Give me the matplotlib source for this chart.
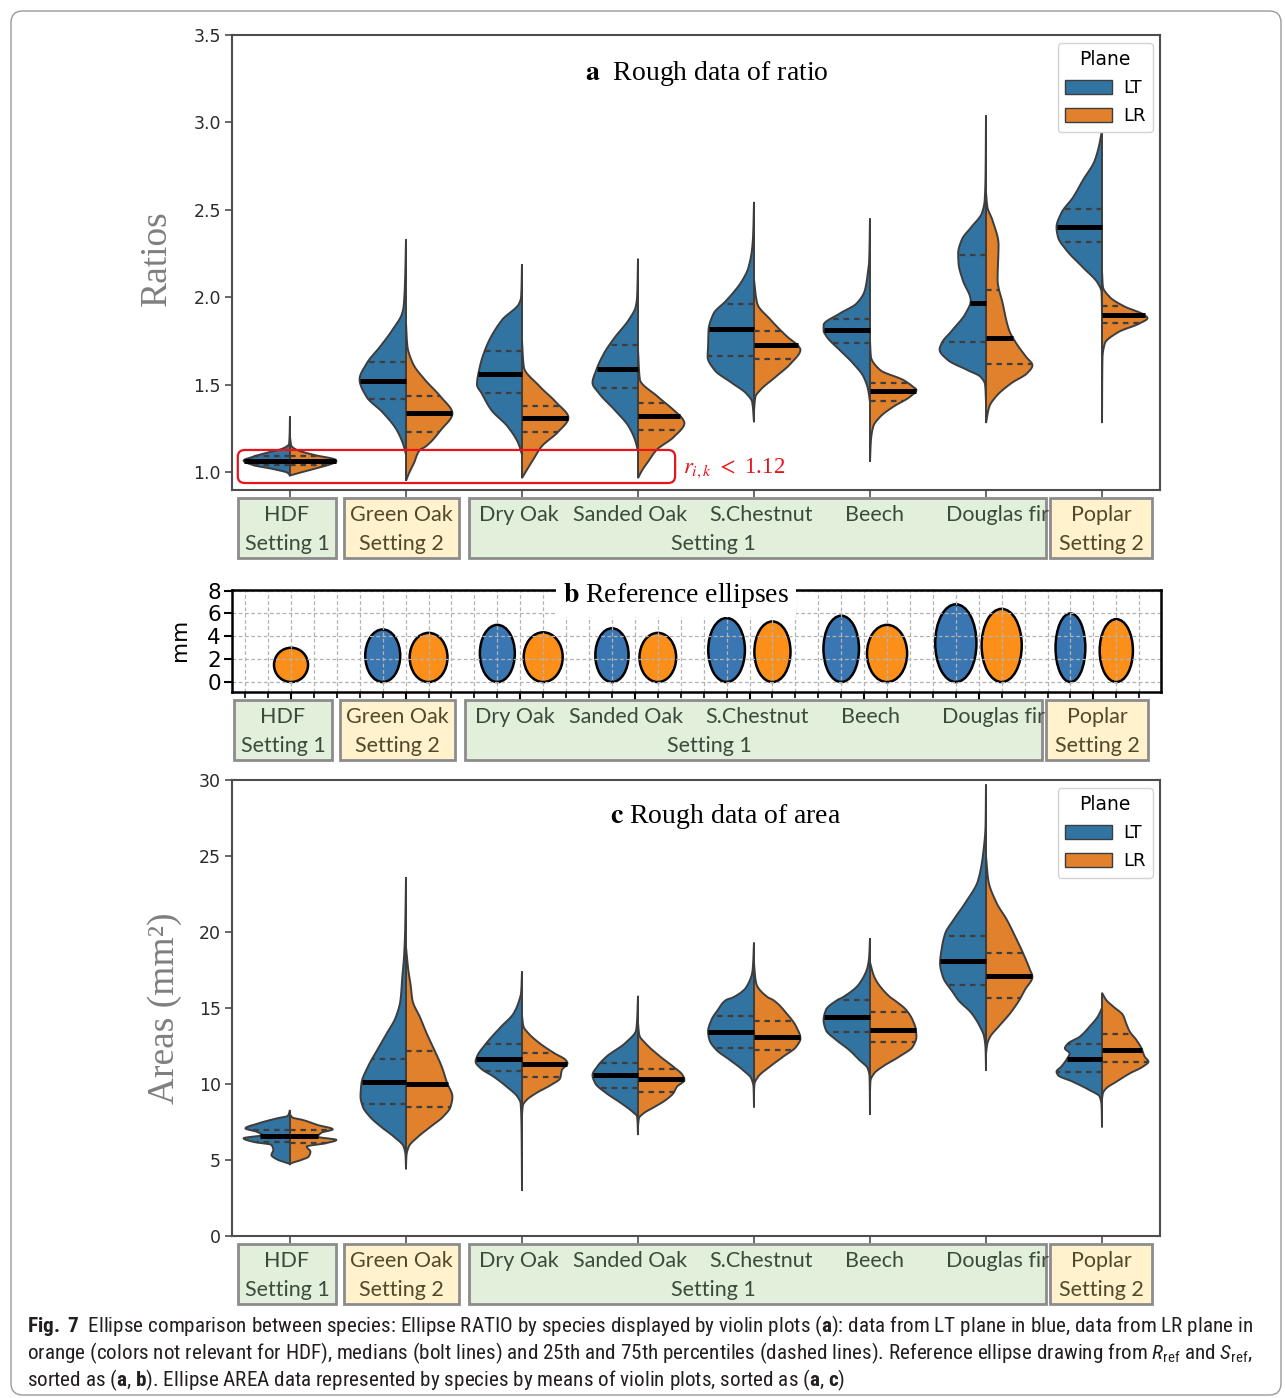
import numpy as np
import matplotlib
matplotlib.use("Agg")
import matplotlib.pyplot as plt
from matplotlib import font_manager
from matplotlib.patches import Rectangle, Ellipse, FancyBboxPatch, Patch

# ── data ────────────────────────────────────────────────────────────────────
SPECIES = ["HDF", "Green Oak", "Dry Oak", "Sanded Oak", "S.Chestnut", "Beech", "Douglas fir", "Poplar"]
PLANES = ["LT", "LR"]

# violin outlines: (value, relative half-width) from top tip to bottom tip
RATIO_LT_SHAPE = [
    [(1.32, 0), (1.16, 0.02), (1.145, 0.08), (1.13, 0.2), (1.116, 0.41), (1.087, 0.8), (1.065, 1.0),
     (1.04, 0.8), (1.015, 0.33), (0.995, 0.05), (0.98, 0)],
    [(2.33, 0), (2.1, 0.02), (1.95, 0.05), (1.91, 0.08), (1.81, 0.3), (1.72, 0.55), (1.62, 0.85),
     (1.53, 1.0), (1.43, 0.85), (1.34, 0.5), (1.24, 0.2), (1.15, 0.05), (1.10, 0)],
    [(2.19, 0), (2.0, 0.02), (1.965, 0.06), (1.87, 0.43), (1.716, 0.77), (1.60, 0.91), (1.50, 0.97),
     (1.45, 0.87), (1.354, 0.66), (1.26, 0.31), (1.164, 0.08), (1.10, 0)],
    [(2.22, 0), (2.0, 0.02), (1.945, 0.05), (1.87, 0.2), (1.77, 0.5), (1.68, 0.73), (1.583, 0.9),
     (1.51, 0.98), (1.45, 0.84), (1.354, 0.5), (1.26, 0.2), (1.18, 0.06), (1.12, 0)],
    [(2.545, 0), (2.35, 0.02), (2.28, 0.04), (2.17, 0.12), (2.097, 0.25), (1.98, 0.6), (1.907, 0.87),
     (1.81, 0.98), (1.716, 0.99), (1.66, 1.0), (1.583, 0.85), (1.51, 0.48), (1.45, 0.17), (1.40, 0.04),
     (1.285, 0)],
    [(2.45, 0), (2.2, 0.02), (2.154, 0.04), (2.04, 0.11), (1.964, 0.29), (1.907, 0.65), (1.84, 1.0),
     (1.81, 1.0), (1.773, 0.93), (1.697, 0.65), (1.62, 0.36), (1.545, 0.14), (1.47, 0.04), (1.40, 0)],
    [(3.04, 0), (2.7, 0.01), (2.55, 0.03), (2.48, 0.09), (2.40, 0.32), (2.33, 0.52), (2.25, 0.6),
     (2.19, 0.59), (2.097, 0.5), (1.98, 0.33), (1.907, 0.44), (1.81, 0.73), (1.735, 0.96), (1.70, 1.0),
     (1.64, 0.82), (1.583, 0.4), (1.545, 0.12), (1.50, 0.02), (1.40, 0)],
    [(3.12, 0), (2.95, 0.01), (2.897, 0.04), (2.78, 0.16), (2.67, 0.41), (2.573, 0.62), (2.48, 0.88),
     (2.40, 0.98), (2.345, 0.95), (2.27, 0.77), (2.17, 0.41), (2.08, 0.09), (2.03, 0.01), (1.9, 0)],
]
RATIO_LR_SHAPE = [
    [(1.20, 0), (1.15, 0.03), (1.13, 0.12), (1.097, 0.53), (1.07, 0.98), (1.06, 1.0), (1.05, 0.93),
     (1.02, 0.55), (0.995, 0.2), (0.98, 0)],
    [(1.85, 0), (1.72, 0.03), (1.62, 0.15), (1.53, 0.4), (1.43, 0.75), (1.335, 1.0), (1.24, 0.75),
     (1.145, 0.42), (1.126, 0.3), (1.05, 0.17), (0.99, 0.06), (0.95, 0)],
    [(1.75, 0), (1.6, 0.04), (1.49, 0.38), (1.40, 0.73), (1.31, 1.0), (1.23, 0.78), (1.145, 0.42),
     (1.07, 0.24), (1.01, 0.1), (0.965, 0)],
    [(1.7, 0), (1.53, 0.04), (1.43, 0.43), (1.354, 0.77), (1.30, 0.97), (1.28, 1.0), (1.2, 0.77),
     (1.126, 0.4), (1.06, 0.22), (1.01, 0.09), (0.965, 0)],
    [(2.1, 0), (1.964, 0.07), (1.87, 0.36), (1.773, 0.72), (1.716, 0.97), (1.70, 1.0), (1.62, 0.79),
     (1.545, 0.47), (1.47, 0.14), (1.43, 0.03), (1.35, 0)],
    [(1.75, 0), (1.66, 0.02), (1.583, 0.22), (1.526, 0.72), (1.487, 0.93), (1.47, 1.0), (1.43, 0.86),
     (1.373, 0.5), (1.316, 0.22), (1.26, 0.07), (1.18, 0.02), (1.06, 0)],
    [(2.6, 0), (2.516, 0.03), (2.44, 0.14), (2.3, 0.27), (2.1, 0.25), (1.964, 0.36), (1.81, 0.5),
     (1.737, 0.65), (1.66, 0.86), (1.61, 1.0), (1.566, 0.89), (1.507, 0.54), (1.43, 0.21),
     (1.373, 0.07), (1.28, 0)],
    [(2.15, 0), (2.06, 0.02), (2.0, 0.17), (1.95, 0.46), (1.897, 0.92), (1.88, 0.98), (1.85, 0.81),
     (1.80, 0.35), (1.735, 0.06), (1.65, 0.01), (1.28, 0)],
]
# (q1, median, q3)
RATIO_LT_QUART = [(1.04, 1.065, 1.09), (1.42, 1.52, 1.63), (1.45, 1.56, 1.69), (1.478, 1.59, 1.726),
                  (1.665, 1.817, 1.96), (1.74, 1.81, 1.873), (1.745, 1.964, 2.24), (2.316, 2.402, 2.507)]
RATIO_LR_QUART = [(1.04, 1.065, 1.09), (1.23, 1.335, 1.434), (1.23, 1.308, 1.38), (1.24, 1.322, 1.393),
                  (1.644, 1.726, 1.808), (1.406, 1.465, 1.51), (1.615, 1.764, 2.04), (1.85, 1.897, 1.949)]

AREA_LT_SHAPE = [
    [(8.29, 0), (7.9, 0.05), (7.74, 0.28), (7.41, 0.68), (7.08, 0.96), (6.86, 0.72), (6.64, 0.6),
     (6.43, 1.0), (6.2, 0.8), (5.99, 0.4), (5.66, 0.36), (5.33, 0.4), (5.04, 0.28), (4.82, 0.08), (4.74, 0)],
    [(23.6, 0), (20, 0.02), (18.5, 0.04), (17, 0.08), (15.5, 0.12), (14.4, 0.22), (13.3, 0.42),
     (12.24, 0.62), (11.14, 0.82), (10.04, 0.96), (9.17, 0.98), (8.5, 0.93), (7.85, 0.78), (7.19, 0.54),
     (6.53, 0.26), (5.88, 0.05), (5.3, 0.01), (4.39, 0)],
    [(17.4, 0), (16, 0.02), (15.5, 0.06), (14.65, 0.18), (13.77, 0.45), (12.68, 0.77), (11.8, 0.97),
     (11.47, 1.0), (11.03, 0.89), (10.48, 0.61), (9.82, 0.33), (9.17, 0.1), (8.73, 0.03), (7, 0.01), (2.98, 0)],
    [(15.8, 0), (14.2, 0.02), (13.55, 0.04), (12.68, 0.28), (11.8, 0.68), (11.14, 0.88), (10.59, 0.98),
     (10.04, 0.92), (9.39, 0.68), (8.73, 0.36), (8.18, 0.12), (7.85, 0.02), (6.64, 0)],
    [(19.3, 0), (17.5, 0.03), (16.4, 0.16), (15.7, 0.45), (15.53, 0.6), (14.87, 0.78), (14.2, 0.92),
     (13.44, 0.99), (12.9, 0.96), (12.24, 0.81), (11.58, 0.52), (10.92, 0.24), (10.37, 0.06), (9.8, 0.01),
     (8.46, 0)],
    [(19.6, 0), (18.3, 0.02), (17.73, 0.05), (16.6, 0.23), (15.7, 0.59), (15.53, 0.7), (14.87, 0.95),
     (14.2, 1.0), (13.55, 0.95), (12.9, 0.73), (12.24, 0.45), (11.58, 0.23), (11.03, 0.05), (10.5, 0.01),
     (7.96, 0)],
    [(29.7, 0), (27, 0.01), (25.2, 0.06), (23.4, 0.17), (21.9, 0.45), (20.8, 0.7), (19.9, 0.88),
     (18.8, 0.96), (17.94, 0.99), (17.06, 0.93), (15.97, 0.7), (15.53, 0.6), (14.65, 0.31), (13.77, 0.13),
     (13.11, 0.04), (12.3, 0.01), (10.88, 0)],
    [(15.0, 0), (14.44, 0.09), (13.77, 0.27), (13.11, 0.48), (12.67, 0.73), (12.35, 0.8), (12.02, 0.7),
     (11.58, 0.77), (11.14, 0.88), (10.81, 0.98), (10.59, 0.95), (10.15, 0.63), (9.6, 0.27), (9.17, 0.05),
     (8.6, 0.01), (7.15, 0)],
]
AREA_LR_SHAPE = [
    [(8.0, 0), (7.8, 0.05), (7.63, 0.28), (7.3, 0.6), (7.02, 0.92), (6.8, 0.68), (6.53, 0.6), (6.32, 1.0),
     (6.1, 0.76), (5.88, 0.36), (5.55, 0.44), (5.22, 0.4), (5.0, 0.24), (4.8, 0.04), (4.74, 0)],
    [(19, 0), (17.5, 0.05), (16.5, 0.1), (15.5, 0.14), (14.4, 0.3), (13.3, 0.45), (12.24, 0.61),
     (11.14, 0.77), (10.04, 0.89), (9.17, 1.0), (8.5, 0.96), (7.85, 0.8), (7.19, 0.53), (6.53, 0.26),
     (5.88, 0.06), (5.3, 0.01), (4.6, 0)],
    [(14.5, 0), (13.8, 0.03), (13.33, 0.14), (12.68, 0.38), (12.02, 0.7), (11.58, 0.94), (11.36, 0.98),
     (10.92, 0.86), (10.37, 0.82), (9.93, 0.62), (9.39, 0.3), (8.95, 0.1), (8.6, 0.02), (8.0, 0)],
    [(14, 0), (13.2, 0.03), (12.68, 0.16), (11.8, 0.48), (11.14, 0.76), (10.59, 0.96), (10.26, 1.0),
     (9.82, 0.84), (9.39, 0.76), (8.95, 0.6), (8.5, 0.36), (8.07, 0.12), (7.75, 0.02), (7.2, 0)],
    [(18, 0), (17.2, 0.02), (16.6, 0.05), (15.7, 0.3), (15.53, 0.41), (14.65, 0.7), (13.77, 0.91),
     (13.0, 1.0), (12.45, 0.91), (11.8, 0.63), (11.14, 0.34), (10.48, 0.09), (10.0, 0.01), (9.5, 0)],
    [(18, 0), (17.07, 0.09), (15.75, 0.42), (15.53, 0.52), (14.87, 0.78), (14.2, 0.92), (13.55, 0.99),
     (13.11, 1.0), (12.45, 0.92), (11.8, 0.63), (11.14, 0.27), (10.7, 0.09), (10.2, 0.01), (9.5, 0)],
    [(25, 0), (23.4, 0.05), (21.9, 0.23), (20.8, 0.45), (19.7, 0.63), (18.6, 0.8), (17.5, 0.95),
     (17.06, 1.0), (16.2, 0.84), (15.53, 0.72), (14.65, 0.52), (13.77, 0.27), (13.11, 0.09),
     (12.67, 0.03), (12.0, 0)],
    [(16.0, 0), (15.53, 0.09), (15.1, 0.24), (14.54, 0.45), (13.99, 0.52), (13.44, 0.6), (12.9, 0.74),
     (12.35, 0.85), (11.8, 0.92), (11.47, 1.0), (11.14, 0.88), (10.7, 0.6), (10.15, 0.31), (9.71, 0.09),
     (9.39, 0.02), (9.0, 0)],
]
AREA_LT_QUART = [(6.16, 6.6, 6.97), (8.66, 10.11, 11.64), (10.86, 11.64, 12.61), (9.76, 10.59, 11.4),
                 (12.4, 13.44, 14.5), (13.4, 14.4, 15.5), (16.51, 18.07, 19.76), (10.81, 11.64, 12.61)]
AREA_LR_QUART = [(6.14, 6.58, 6.97), (8.5, 9.98, 12.19), (10.48, 11.32, 12.06), (9.5, 10.33, 10.96),
                 (12.24, 13.12, 14.17), (12.74, 13.55, 14.72), (15.68, 17.13, 18.64), (11.43, 12.24, 13.27)]

# reference ellipses (mm): width, height; HDF has only one
ELL_LT_W = [None, 3.05, 3.05, 2.9, 3.2, 3.1, 3.6, 2.6]
ELL_LT_H = [None, 4.6, 5.0, 4.7, 5.6, 5.8, 6.8, 6.0]
ELL_LR_W = [2.97, 3.3, 3.4, 3.2, 3.15, 3.5, 3.5, 2.9]
ELL_LR_H = [3.0, 4.3, 4.35, 4.3, 5.3, 5.0, 6.4, 5.5]

GROUP_TEXT = [["HDF", "Setting 1"], ["Green Oak", "Setting 2"], ["Setting 1"], ["Poplar", "Setting 2"]]
GROUP_SPECIES = ["Dry Oak", "Sanded Oak", "S.Chestnut", "Beech", "Douglas fir"]

# ── style ───────────────────────────────────────────────────────────────────
W, H = 1285, 1398
BLUE, ORANGE = "#3274a1", "#e1812c"
ELL_BLUE, ELL_ORANGE = "#3a76b1", "#fb8f1a"
EDGE = "#3d3d3d"
SPINE = "#4d4d4d"
GREEN_BOX, YELLOW_BOX = "#e2efda", "#fff2cc"
SERIF = "Liberation Serif"

names = {f.name for f in font_manager.fontManager.ttflist}
CAP_FONT = next((n for n in ["Liberation Sans Narrow", "Roboto Condensed", "Open Sans Condensed",
                             "DejaVu Sans Condensed", "Roboto"] if n in names), "DejaVu Sans")
plt.rcParams["mathtext.fontset"] = "custom"
plt.rcParams["mathtext.rm"] = CAP_FONT
plt.rcParams["mathtext.it"] = CAP_FONT + ":italic"
plt.rcParams["mathtext.bf"] = CAP_FONT + ":bold"

fig = plt.figure(figsize=(W / 100, H / 100), dpi=100)


def px_axes(left, top, right, bottom):
    return fig.add_axes([left / W, 1 - bottom / H, (right - left) / W, (bottom - top) / H])


def pchip(x, y, xi):
    # monotone cubic through the outline knots (Fritsch-Carlson)
    h = np.diff(x)
    d = np.diff(y) / h
    m = np.zeros_like(y)
    m[0], m[-1] = d[0], d[-1]
    for k in range(1, len(x) - 1):
        if d[k - 1] * d[k] > 0:
            w1, w2 = 2 * h[k] + h[k - 1], h[k] + 2 * h[k - 1]
            m[k] = (w1 + w2) / (w1 / d[k - 1] + w2 / d[k])
    idx = np.clip(np.searchsorted(x, xi) - 1, 0, len(x) - 2)
    t = (xi - x[idx]) / h[idx]
    h00 = 2 * t**3 - 3 * t**2 + 1
    h10 = t**3 - 2 * t**2 + t
    h01 = -2 * t**3 + 3 * t**2
    h11 = t**3 - t**2
    return h00 * y[idx] + h10 * h[idx] * m[idx] + h01 * y[idx + 1] + h11 * h[idx] * m[idx + 1]


def profile(knots):
    v = np.array([k[0] for k in knots], float)[::-1]
    r = np.array([k[1] for k in knots], float)[::-1]
    yy = np.linspace(v[0], v[-1], 900)
    rr = np.clip(pchip(v, r, yy), 0, None)
    rr[0] = rr[-1] = 0
    return yy, rr


def draw_half(ax, x0, knots, quart, side, color):
    yy, rr = profile(knots)
    xs = np.concatenate([[x0], x0 + side * 0.4 * rr, [x0]])
    ys = np.concatenate([[yy[0]], yy, [yy[-1]]])
    ax.fill(xs, ys, facecolor=color, edgecolor=EDGE, lw=1.4, zorder=2)
    for j, q in enumerate(quart):
        w = side * 0.4 * np.interp(q, yy, rr)
        if j == 1:
            ax.plot([x0, x0 + w], [q, q], color="black", lw=3.6, solid_capstyle="butt", zorder=3)
        else:
            ax.plot([x0, x0 + w], [q, q], color=EDGE, lw=1.6, ls=(0, (2.5, 2.2)), zorder=3)


def violin_panel(ax, lt_shape, lr_shape, lt_q, lr_q, ylim, yticks):
    for i in range(len(SPECIES)):
        draw_half(ax, i, lt_shape[i], lt_q[i], -1, BLUE)
        draw_half(ax, i, lr_shape[i], lr_q[i], 1, ORANGE)
    ax.set_xlim(-0.5, 7.5)
    ax.set_ylim(*ylim)
    ax.set_xticks(range(len(SPECIES)))
    ax.set_xticklabels([])
    ax.set_yticks(yticks)
    ax.tick_params(direction="out", length=5, width=1.2, color=SPINE, labelsize=12.5,
                   labelcolor="#2b2b2b", pad=3)
    for s in ax.spines.values():
        s.set_color(SPINE)
        s.set_linewidth(1.5)
    handles = [Patch(facecolor=BLUE, edgecolor=EDGE, label=PLANES[0]),
               Patch(facecolor=ORANGE, edgecolor=EDGE, label=PLANES[1])]
    leg = ax.legend(handles=handles, title="Plane", loc="upper right", bbox_to_anchor=(0.992, 0.982),
                    fontsize=13, title_fontsize=13.5, handlelength=2.6, handleheight=0.8,
                    handletextpad=0.6, labelspacing=0.55, borderpad=0.4, borderaxespad=0,
                    framealpha=1, edgecolor="#d4d4d4", fancybox=True)
    leg.set_zorder(10)


def label_strip(ax, dx=0.0):
    spans = [(-0.448, 0.397), (0.466, 1.457), (1.543, 6.517), (6.552, 7.431)]
    fills = [GREEN_BOX, YELLOW_BOX, GREEN_BOX, YELLOW_BOX]
    tcols = ["#3c4a3c", "#54482a", "#3c4a3c", "#54482a"]
    ax.set_xlim(-0.5, 7.5)
    ax.set_ylim(0, 1)
    ax.axis("off")
    for k, ((a, b), fc) in enumerate(zip(spans, fills)):
        rect = Rectangle((a + dx, 0.02), b - a, 0.96, facecolor=fc, edgecolor="#8c8c8c", lw=2,
                         clip_on=False)
        ax.add_patch(rect)
        txt = dict(ha="center", va="center", fontsize=15.5, family="Lato", color=tcols[k])
        if k == 2:
            for name, x in zip(GROUP_SPECIES, [1.97, 2.93, 4.06, 5.04, 6.1]):
                t = ax.text(x + dx, 0.71, name, **txt)
                t.set_clip_path(rect)
            ax.text(3.65 + dx, 0.25, GROUP_TEXT[k][0], **txt)
        else:
            ax.text((a + b) / 2 + dx, 0.71, GROUP_TEXT[k][0], **txt)
            ax.text((a + b) / 2 + dx, 0.25, GROUP_TEXT[k][1], **txt)


# ── panel a ─────────────────────────────────────────────────────────────────
ax_a = px_axes(232, 35, 1160, 490)
violin_panel(ax_a, RATIO_LT_SHAPE, RATIO_LR_SHAPE, RATIO_LT_QUART, RATIO_LR_QUART,
             (0.897, 3.5), [1.0, 1.5, 2.0, 2.5, 3.0, 3.5])
ax_a.text(0.512, 0.916, r"$\mathbf{a}$  Rough data of ratio", transform=ax_a.transAxes, ha="center",
          va="center", fontsize=20, family=SERIF, math_fontfamily="stix")
ax_a.add_patch(FancyBboxPatch((-0.45, 0.937), 3.77, 0.189, boxstyle="round,pad=0,rounding_size=0.06",
                              mutation_aspect=0.663, ec="#e8141c", fc="none", lw=1.6, zorder=5))
ax_a.text(3.39, 1.023, r"$r_{i,k}$ $<$ 1.12", color="#e8141c", fontsize=16.5, va="center",
          family=SERIF, math_fontfamily="stix")
fig.text(157 / W, 1 - 258 / H, "Ratios", rotation=90, ha="center", va="center", fontsize=27,
         family=SERIF, color="#7f7f7f")
label_strip(px_axes(232, 497, 1160, 559))

# ── panel b ─────────────────────────────────────────────────────────────────
ax_b = px_axes(232, 590, 1161, 692)
for i in range(len(SPECIES)):
    if ELL_LT_W[i] is None:
        ax_b.add_patch(Ellipse((i, ELL_LR_H[i] / 2), ELL_LR_W[i] / 10, ELL_LR_H[i],
                               facecolor=ELL_ORANGE, edgecolor="black", lw=1.8, zorder=1))
        continue
    ax_b.add_patch(Ellipse((i - 0.2, ELL_LT_H[i] / 2), ELL_LT_W[i] / 10, ELL_LT_H[i],
                           facecolor=ELL_BLUE, edgecolor="black", lw=1.8, zorder=1))
    ax_b.add_patch(Ellipse((i + 0.2, ELL_LR_H[i] / 2), ELL_LR_W[i] / 10, ELL_LR_H[i],
                           facecolor=ELL_ORANGE, edgecolor="black", lw=1.8, zorder=1))
ax_b.set_xlim(-0.515, 7.59)
ax_b.set_ylim(-0.87, 8.05)
ax_b.set_xticks(range(len(SPECIES)))
ax_b.set_xticks(np.arange(-0.4, 7.5, 0.2), minor=True)
ax_b.set_xticklabels([])
ax_b.set_yticks([0, 2, 4, 6, 8])
ax_b.tick_params(which="major", direction="out", length=6, width=1.5, color="black", labelsize=15.5,
                 pad=2)
ax_b.tick_params(which="minor", direction="out", length=4, width=1.2, color="black")
ax_b.grid(True, which="both", axis="x", ls=(0, (3, 2)), color="#b3b3b3", lw=0.9)
ax_b.grid(True, which="major", axis="y", ls=(0, (3, 2)), color="#b3b3b3", lw=0.9)
for s in ax_b.spines.values():
    s.set_color("black")
    s.set_linewidth(1.8)
ax_b.text(0.478, 0.95, r"$\mathbf{b}$ Reference ellipses", transform=ax_b.transAxes, ha="center",
          va="center", fontsize=20, family=SERIF, math_fontfamily="stix", zorder=10,
          bbox=dict(boxstyle="square,pad=0.25", fc="white", ec="none"))
fig.text(180 / W, 1 - 640 / H, "mm", rotation=90, ha="center", va="center", fontsize=15.5)
label_strip(px_axes(232, 699, 1160, 761), dx=-0.035)

# ── panel c ─────────────────────────────────────────────────────────────────
ax_c = px_axes(232, 780, 1160, 1236)
violin_panel(ax_c, AREA_LT_SHAPE, AREA_LR_SHAPE, AREA_LT_QUART, AREA_LR_QUART,
             (0, 30), [0, 5, 10, 15, 20, 25, 30])
ax_c.text(0.532, 0.921, r"$\mathbf{c}$ Rough data of area", transform=ax_c.transAxes, ha="center",
          va="center", fontsize=20, family=SERIF, math_fontfamily="stix")
fig.text(165 / W, 1 - 1008 / H, "Areas (mm²)", rotation=90, ha="center", va="center", fontsize=27,
         family=SERIF, color="#7f7f7f")
label_strip(px_axes(232, 1243, 1160, 1305))

# ── caption and frame ───────────────────────────────────────────────────────
lines = [
    r"$\mathbf{Fig.\ 7}$  Ellipse comparison between species: Ellipse RATIO by species displayed by "
    r"violin plots ($\mathbf{a}$): data from LT plane in blue, data from LR plane in",
    r"orange (colors not relevant for HDF), medians (bolt lines) and 25th and 75th percentiles "
    r"(dashed lines). Reference ellipse drawing from $R_{\mathrm{ref}}$ and $S_{\mathrm{ref}}$,",
    r"sorted as ($\mathbf{a}$, $\mathbf{b}$). Ellipse AREA data represented by species by means of "
    r"violin plots, sorted as ($\mathbf{a}$, $\mathbf{c}$)",
]
caps = [fig.text(27 / W, 1 - y / H, s, ha="left", va="center", fontsize=14, family=CAP_FONT,
                 color="#231f20") for s, y in zip(lines, [1326, 1353, 1380])]
renderer = fig.canvas.get_renderer()
scale = 1232 / caps[0].get_window_extent(renderer=renderer).width
for t in caps:
    t.set_fontsize(14 * scale)

fig.patches.append(FancyBboxPatch((11 / W, 3 / H), 1270 / W, 1384 / H, transform=fig.transFigure,
                                  boxstyle="round,pad=0,rounding_size=0.009",
                                  mutation_aspect=W / H, fc="none", ec="#9a9a9a", lw=1.0))

fig.savefig("out.png", dpi=100)
